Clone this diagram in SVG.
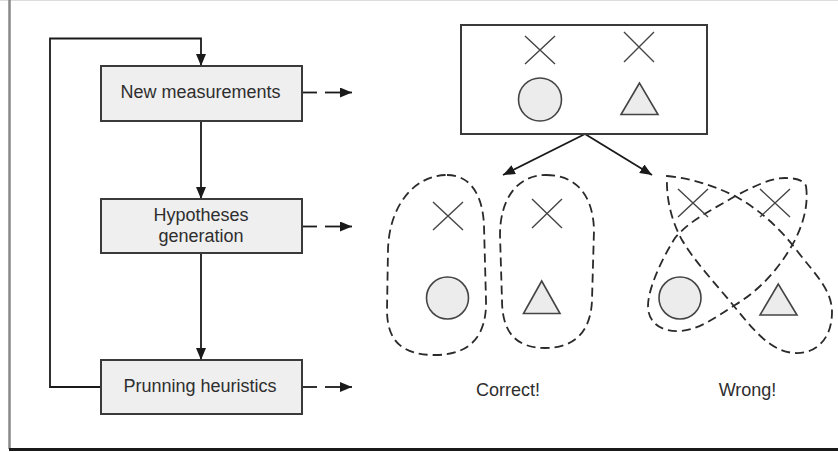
<svg xmlns="http://www.w3.org/2000/svg" width="838" height="452" viewBox="0 0 838 452">
  <defs>
    <marker id="arrow" viewBox="0 0 12 10" refX="12" refY="5" markerWidth="12" markerHeight="10" markerUnits="userSpaceOnUse" orient="auto">
      <path d="M0,0 L12,5 L0,10 Z" fill="#1a1a1a"/>
    </marker>
    <style>
      .step { fill: #efefef; stroke: #3a3a3a; stroke-width: 2; }
      .label { font-family: "Liberation Sans", Arial, sans-serif; font-size: 18px; fill: #2e2e2e; text-anchor: middle; }
      .flow { fill: none; stroke: #1a1a1a; stroke-width: 1.8; }
      .mark { fill: none; stroke: #444; stroke-width: 1.4; }
      .shape { fill: #ececec; stroke: #444; stroke-width: 1.6; }
      .group { fill: none; stroke: #2a2a2a; stroke-width: 1.8; stroke-dasharray: 9 5; }
    </style>
  </defs>

  <rect width="838" height="452" fill="#fff"/>
  <!-- frame -->
  <line x1="0" y1="0.5" x2="838" y2="0.5" stroke="#ddd" stroke-width="1"/>
  <line x1="9.5" y1="0" x2="9.5" y2="449" stroke="#888" stroke-width="2.5"/>
  <line x1="9" y1="449.5" x2="838" y2="449.5" stroke="#1a1a1a" stroke-width="3"/>

  <!-- connectors -->
  <g id="connectors">
    <polyline class="flow" points="101,387 50,387 50,38.5 201,38.5 201,66" marker-end="url(#arrow)"/>
    <line class="flow" x1="201" y1="121" x2="201" y2="199" marker-end="url(#arrow)"/>
    <line class="flow" x1="201" y1="253" x2="201" y2="360" marker-end="url(#arrow)"/>
    <g>
      <line class="flow" x1="302" y1="92.5" x2="317" y2="92.5"/>
      <line class="flow" x1="325" y1="92.5" x2="352" y2="92.5" marker-end="url(#arrow)"/>
      <line class="flow" x1="302" y1="226.5" x2="317" y2="226.5"/>
      <line class="flow" x1="325" y1="226.5" x2="352" y2="226.5" marker-end="url(#arrow)"/>
      <line class="flow" x1="302" y1="387" x2="317" y2="387"/>
      <line class="flow" x1="325" y1="387" x2="352" y2="387" marker-end="url(#arrow)"/>
    </g>
    <line class="flow" x1="585" y1="134" x2="503" y2="175" marker-end="url(#arrow)"/>
    <line class="flow" x1="585" y1="134" x2="652" y2="175" marker-end="url(#arrow)"/>
  </g>

  <!-- process steps -->
  <g id="new-measurements">
    <rect class="step" x="101" y="66" width="201" height="55"/>
    <text class="label" x="200.5" y="98">New measurements</text>
  </g>
  <g id="hypotheses-generation">
    <rect class="step" x="101" y="199" width="201" height="54"/>
    <text class="label" x="201" y="221">Hypotheses</text>
    <text class="label" x="201" y="242">generation</text>
  </g>
  <g id="prunning-heuristics">
    <rect class="step" x="101" y="360" width="201" height="54"/>
    <text class="label" x="200" y="392">Prunning heuristics</text>
  </g>

  <!-- measurement set -->
  <g id="measurements">
    <rect x="461" y="25" width="246" height="109" fill="#fff" stroke="#3a3a3a" stroke-width="2"/>
    <path class="mark" d="M525,36 L555,64 M555,36 L525,64"/>
    <path class="mark" d="M624,32 L654,62 M654,32 L624,62"/>
    <circle class="shape" cx="540" cy="99.5" r="21.5"/>
    <polygon class="shape" points="639.5,83 621,114.5 658,114.5"/>
  </g>

  <!-- correct grouping -->
  <g id="correct">
    <path class="group" d="M447,175 C471,175 483,196 484,226 L486,300 C487,336 470,355 435,355 C401,355 387,340 387,310 L388,250 C389,205 415,175 447,175 Z"/>
    <path class="group" d="M546,175 C576,175 593,195 594,230 L592,300 C591,331 575,348 545,348 C515,348 502,331 502,300 L500,235 C500,198 518,175 546,175 Z"/>
    <path class="mark" d="M433,202 L463,230 M463,202 L433,230"/>
    <circle class="shape" cx="447.5" cy="298" r="21"/>
    <path class="mark" d="M532,199 L562,228 M562,199 L532,228"/>
    <polygon class="shape" points="541.7,281 523.5,313.5 560,313.5"/>
    <text class="label" x="508" y="396">Correct!</text>
  </g>

  <!-- wrong grouping -->
  <g id="wrong">
    <path class="group" d="M667,176 C690,178 712,185 735,196 C760,210 780,228 798,252 C815,274 832,290 832,312 C832,340 815,354 795,353 C770,352 752,328 733,305 C715,283 695,262 682,240 C672,222 666,200 667,176 Z"/>
    <path class="group" d="M806,186 C808,200 806,218 795,240 C780,268 760,290 735,305 C715,318 698,330 680,331 C660,332 648,322 648,306 C648,290 660,262 675,238 C690,220 712,210 732,198 C750,188 770,178 785,178 C795,178 804,180 806,186 Z"/>
    <path class="mark" d="M678,189 L708,217 M708,189 L678,217"/>
    <path class="mark" d="M760,189 L790,217 M790,189 L760,217"/>
    <circle class="shape" cx="680" cy="298" r="21"/>
    <polygon class="shape" points="778.3,284 760,315 797,315"/>
    <text class="label" x="747.5" y="396">Wrong!</text>
  </g>
</svg>
